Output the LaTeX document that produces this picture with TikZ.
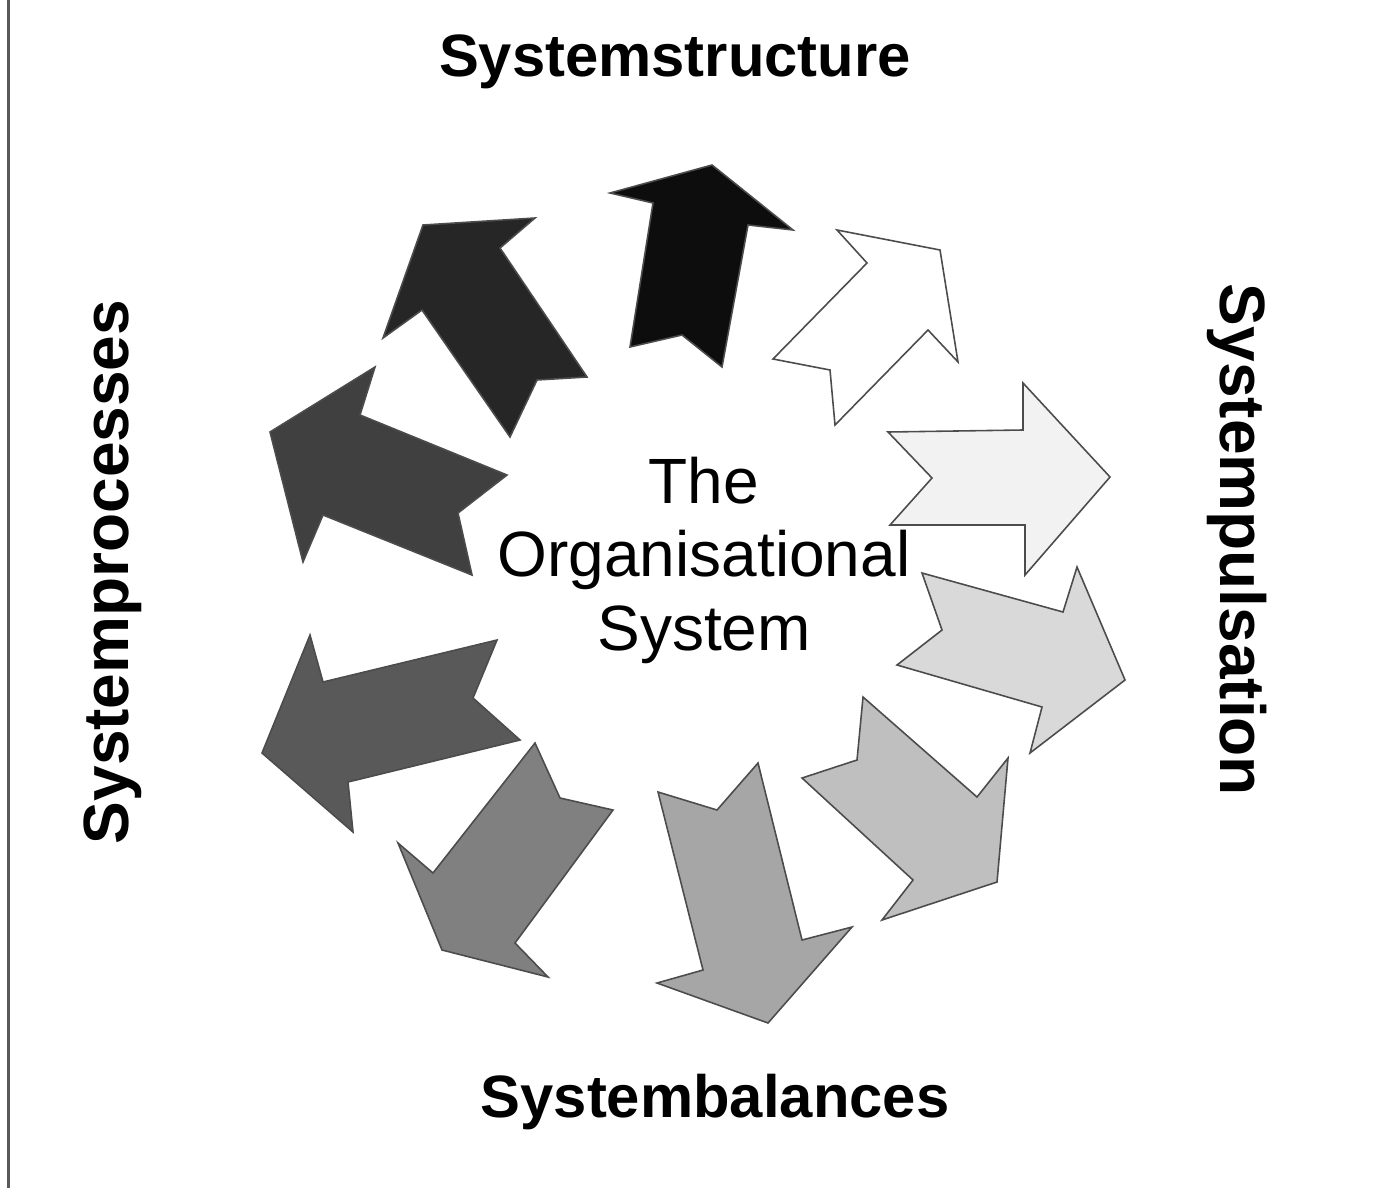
\documentclass[tikz,border=0pt]{standalone}
\usepackage{fontspec}
\setmainfont{Liberation Sans}
\usetikzlibrary{calc}
\tikzset{
  pointer/.style={draw=black!70, line width=0.45pt, line join=miter},
  headline/.style={font=\bfseries\fontsize{17}{20}\selectfont, anchor=base, inner sep=0pt},
  sideline/.style={font=\bfseries\fontsize{18.2}{21}\selectfont, anchor=base, inner sep=0pt},
}

\begin{document}
\begin{tikzpicture}[x=0.01cm, y=-0.01cm]
			%%%%% START %%%%%
			\useasboundingbox (0, 0) rectangle (1389, 1188);
			
			\draw[line width=0.85pt, color=black!65] (8.5, 0) -- (8.5, 1188);
			
			% ring of arrows, clockwise from the top
			\draw[pointer, fill=black!95] (712, 165) -- (793, 230) -- (748, 225) -- (722, 367) -- (682, 335) -- (630, 347) -- (653, 203) -- (610, 193) -- cycle;
			\draw[pointer, fill=white] (940, 250) -- (958, 362) -- (928, 330) -- (835, 425) -- (830, 370) -- (773, 359) -- (867, 263) -- (837, 230) -- cycle;
			\draw[pointer, fill=black!5] (1110, 477) -- (1025, 575) -- (1025, 525) -- (890, 525) -- (932, 478) -- (888, 432) -- (1023, 430) -- (1023, 383) -- cycle;
			\draw[pointer, fill=black!15] (1125, 680) -- (1030, 753) -- (1042, 707) -- (897, 665) -- (942, 630) -- (922, 573) -- (1063, 612) -- (1077, 567) -- cycle;
			\draw[pointer, fill=black!25] (997, 882) -- (882, 920) -- (913, 880) -- (802, 778) -- (857, 760) -- (863, 697) -- (977, 797) -- (1008, 758) -- cycle;
			\draw[pointer, fill=black!35] (768, 1023) -- (657, 983) -- (703, 970) -- (658, 792) -- (717, 810) -- (758, 763) -- (802, 940) -- (852, 927) -- cycle;
			\draw[pointer, fill=black!50] (442, 950) -- (398, 843) -- (433, 873) -- (535, 743) -- (560, 798) -- (613, 810) -- (515, 943) -- (548, 977) -- cycle;
			\draw[pointer, fill=black!65] (262, 753) -- (310, 635) -- (323, 682) -- (497, 640) -- (473, 698) -- (520, 740) -- (348, 782) -- (353, 832) -- cycle;
			\draw[pointer, fill=black!75] (270, 432) -- (375, 367) -- (360, 415) -- (507, 475) -- (458, 513) -- (472, 575) -- (323, 515) -- (303, 562) -- cycle;
			\draw[pointer, fill=black!85] (423, 225) -- (535, 218) -- (500, 248) -- (587, 377) -- (537, 380) -- (510, 437) -- (422, 310) -- (383, 338) -- cycle;
			
			% labels
			\node[headline] (structure) at (675, 77) {Systemstructure};
			\node[headline] (balances) at (715, 1117) {Systembalances};
			\node[sideline, rotate=-90] (pulsation) at (1220, 540) {Systempulsation};
			\node[sideline, rotate=90] (processes) at (128, 572) {Systemprocesses};
			
			\node[align=center, inner sep=0pt, font=\fontsize{18.2}{20.9}\selectfont] (centre) at (704, 560) {The\\Organisational\\System};
			
			%%%%% END %%%%%
\end{tikzpicture}
\end{document}
